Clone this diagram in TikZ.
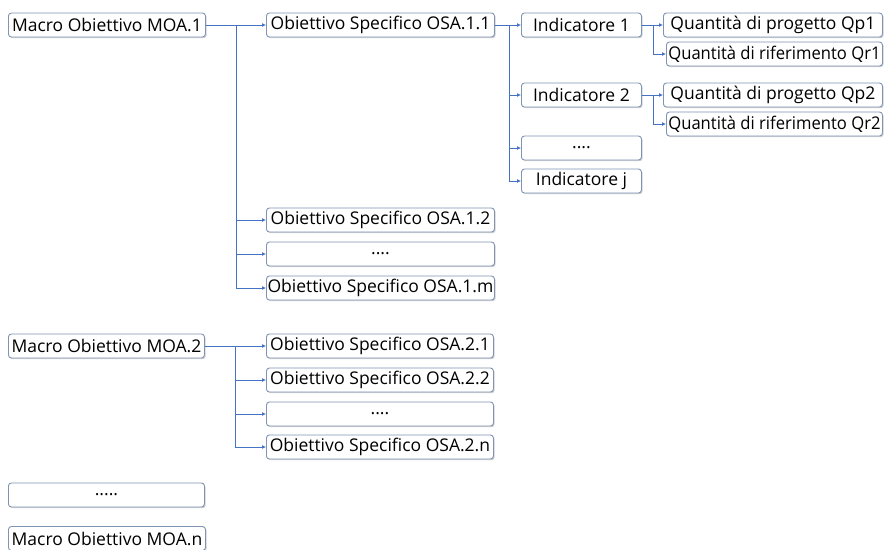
\documentclass[tikz,border=0pt]{standalone}
\usepackage{fontspec}
\usepackage{graphicx}
\setmainfont{Open Sans}
\usetikzlibrary{arrows.meta, shadows, calc, positioning}
\definecolor{bordo}{HTML}{7F93B5}
\definecolor{freccia}{HTML}{4472C4}
\newcommand{\stretto}[1]{\scalebox{0.95}[1]{#1}}

\begin{document}
\begin{tikzpicture}[x=1pt, y=-1pt,
    box/.style={shape=rectangle, draw=bordo, fill=white, rounded corners=3pt, line width=0.9pt,
        anchor=west, minimum height=24pt, inner sep=0.5pt, font=\fontsize{17.5}{20}\selectfont,
        drop shadow={shadow xshift=1.2pt, shadow yshift=-1.2pt, fill=black, opacity=0.18}},
    link/.style={draw=freccia, line width=0.8pt, -{Latex[length=4pt, width=4pt]}}]
    \useasboundingbox (0,0) rectangle (888,549);
    \clip (0,0) rectangle (888,549);

    % primo macro obiettivo
    \node[box, minimum width=197pt] (moa1) at (8,25) {Macro Obiettivo MOA.1};
    \node[box, minimum width=228pt] (osa11) at (266,25) {Obiettivo Specifico OSA.1.1};
    \node[box, minimum width=228pt] (osa12) at (266,220) {Obiettivo Specifico OSA.1.2};
    \node[box, minimum width=228pt] (osa1d) at (266,254) {....};
    \node[box, minimum width=228pt] (osa1m) at (266,288) {Obiettivo Specifico OSA.1.m};

    % indicatori
    \node[box, minimum width=120pt] (ind1) at (521,25) {Indicatore 1};
    \node[box, minimum width=120pt] (ind2) at (521,95) {Indicatore 2};
    \node[box, minimum width=120pt] (indd) at (521,148) {....};
    \node[box, minimum width=120pt] (indj) at (521,181) {Indicatore j};

    % quantita
    \node[box, minimum width=219pt] (qp1) at (663,25) {Quantità di progetto Qp1};
    \node[box, minimum width=216pt] (qr1) at (666,54) {\stretto{Quantità di riferimento Qr1}};
    \node[box, minimum width=219pt] (qp2) at (663,95) {Quantità di progetto Qp2};
    \node[box, minimum width=216pt] (qr2) at (666,124) {\stretto{Quantità di riferimento Qr2}};

    % secondo macro obiettivo
    \node[box, minimum width=196pt] (moa2) at (8,346) {Macro Obiettivo MOA.2};
    \node[box, minimum width=227pt] (osa21) at (266,346) {Obiettivo Specifico OSA.2.1};
    \node[box, minimum width=227pt] (osa22) at (266,380) {Obiettivo Specifico OSA.2.2};
    \node[box, minimum width=227pt] (osa2d) at (266,414) {....};
    \node[box, minimum width=227pt] (osa2n) at (266,447) {Obiettivo Specifico OSA.2.n};

    \node[box, minimum width=196pt] (moad) at (8,495) {.....};
    \node[box, minimum width=197pt] (moan) at (8,538.5) {Macro Obiettivo MOA.n};

    % punti di diramazione
    \coordinate (t1) at ($(moa1.east)!0.5!(osa11.west)$);
    \coordinate (t11) at ($(osa11.east)!0.55!(ind1.west)$);
    \coordinate (tq1) at ($(ind1.east)!0.55!(qp1.west)$);
    \coordinate (tq2) at ($(ind2.east)!0.55!(qp2.west)$);
    \coordinate (t2) at ($(moa2.east)!0.5!(osa21.west)$);

    \draw[link] (moa1.east) -- (osa11.west);
    \foreach \n in {osa12, osa1d, osa1m}{
        \draw[link] (t1) |- (\n.west);
    };
    \draw[link] (osa11.east) -- (ind1.west);
    \foreach \n in {ind2, indd, indj}{
        \draw[link] (t11) |- (\n.west);
    };
    \draw[link] (ind1.east) -- (qp1.west);
    \draw[link] (tq1) |- (qr1.west);
    \draw[link] (ind2.east) -- (qp2.west);
    \draw[link] (tq2) |- (qr2.west);

    \draw[link] (moa2.east) -- (osa21.west);
    \foreach \n in {osa22, osa2d, osa2n}{
        \draw[link] (t2) |- (\n.west);
    };
\end{tikzpicture}
\end{document}
